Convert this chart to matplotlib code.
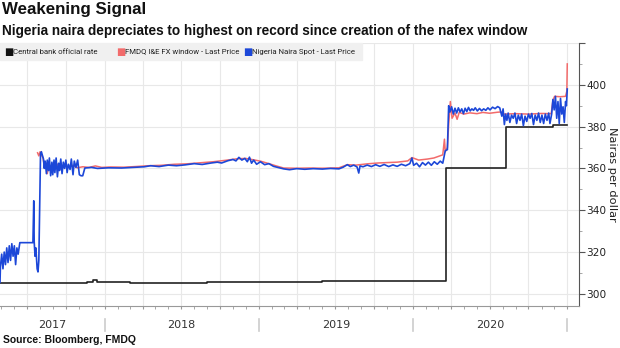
import matplotlib
matplotlib.use("Agg")
import matplotlib.pyplot as plt
import matplotlib.dates as mdates
import matplotlib.transforms as mtrans
from matplotlib import font_manager
from matplotlib.patches import Rectangle
import pandas as pd

# Nigeria naira spot (blue)
spot_dates = [
    "2017-04-28", "2017-04-29", "2017-05-02", "2017-05-05", "2017-05-08", "2017-05-11",
    "2017-05-14", "2017-05-17", "2017-05-20", "2017-05-23", "2017-05-26", "2017-05-29",
    "2017-06-01", "2017-06-04", "2017-06-07", "2017-06-10", "2017-06-14", "2017-07-15",
    "2017-07-17", "2017-07-18", "2017-07-20", "2017-07-22", "2017-07-25", "2017-07-27",
    "2017-07-29", "2017-08-02", "2017-08-04", "2017-08-07", "2017-08-09", "2017-08-11",
    "2017-08-13", "2017-08-16", "2017-08-18", "2017-08-21", "2017-08-23", "2017-08-26",
    "2017-08-29", "2017-08-31", "2017-09-03", "2017-09-05", "2017-09-08", "2017-09-11",
    "2017-09-14", "2017-09-16", "2017-09-19", "2017-09-22", "2017-09-25", "2017-09-28",
    "2017-10-01", "2017-10-04", "2017-10-07", "2017-10-11", "2017-10-14", "2017-10-18",
    "2017-10-21", "2017-10-25", "2017-10-29", "2017-11-02", "2017-11-06", "2017-11-10",
    "2017-11-15", "2017-12-01", "2017-12-15", "2018-01-10", "2018-02-10", "2018-03-10",
    "2018-04-05", "2018-04-20", "2018-05-10", "2018-06-01", "2018-06-20", "2018-07-10",
    "2018-08-01", "2018-08-20", "2018-09-10", "2018-09-25", "2018-10-05", "2018-10-20",
    "2018-11-01", "2018-11-08", "2018-11-15", "2018-11-22", "2018-11-29", "2018-12-05",
    "2018-12-10", "2018-12-15", "2018-12-20", "2018-12-27", "2019-01-05", "2019-01-15",
    "2019-01-25", "2019-02-05", "2019-02-15", "2019-03-01", "2019-03-15", "2019-04-01",
    "2019-04-20", "2019-05-10", "2019-06-01", "2019-06-20", "2019-07-10", "2019-07-20",
    "2019-07-30", "2019-08-06", "2019-08-14", "2019-08-22", "2019-08-26", "2019-08-29",
    "2019-09-05", "2019-09-15", "2019-09-25", "2019-10-05", "2019-10-15", "2019-10-25",
    "2019-11-05", "2019-11-15", "2019-11-25", "2019-12-05", "2019-12-15", "2019-12-25",
    "2019-12-30", "2020-01-03", "2020-01-10", "2020-01-17", "2020-01-24", "2020-01-31",
    "2020-02-07", "2020-02-14", "2020-02-21", "2020-02-28", "2020-03-06", "2020-03-12",
    "2020-03-18", "2020-03-23", "2020-03-26", "2020-03-29", "2020-04-02", "2020-04-06",
    "2020-04-10", "2020-04-14", "2020-04-18", "2020-04-22", "2020-04-26", "2020-04-30",
    "2020-05-04", "2020-05-08", "2020-05-12", "2020-05-16", "2020-05-20", "2020-05-24",
    "2020-05-28", "2020-06-02", "2020-06-07", "2020-06-12", "2020-06-17", "2020-06-22",
    "2020-06-27", "2020-07-02", "2020-07-08", "2020-07-14", "2020-07-20", "2020-07-25",
    "2020-07-30", "2020-08-02", "2020-08-05", "2020-08-08", "2020-08-11", "2020-08-14",
    "2020-08-18", "2020-08-22", "2020-08-26", "2020-08-30", "2020-09-03", "2020-09-07",
    "2020-09-11", "2020-09-15", "2020-09-19", "2020-09-23", "2020-09-27", "2020-10-01",
    "2020-10-05", "2020-10-09", "2020-10-13", "2020-10-17", "2020-10-21", "2020-10-25",
    "2020-10-29", "2020-11-02", "2020-11-06", "2020-11-10", "2020-11-14", "2020-11-18",
    "2020-11-21", "2020-11-25", "2020-11-28", "2020-12-01", "2020-12-04", "2020-12-07",
    "2020-12-10", "2020-12-13", "2020-12-16", "2020-12-19", "2020-12-22", "2020-12-25",
    "2020-12-28", "2020-12-30", "2021-01-01",
]
spot_vals = [
    305.5, 313, 319, 312, 320, 314,
    322, 315, 323, 316, 324, 318,
    323, 314, 322, 319, 324.5, 324.5,
    344.5, 325, 318, 322, 312, 310.5,
    316, 367, 368, 366, 364.5, 360,
    363.5, 357.5, 364, 359, 365, 356.5,
    363, 357, 364, 358, 365, 356,
    362.5, 359, 364.5, 357.5, 363, 360,
    364, 358, 362, 359.5, 364.5, 357,
    363.5, 360.5, 364, 357, 356.5, 356.5,
    360.2, 360.5, 360.0, 360.3, 360.2, 360.5,
    360.8, 361.3, 360.9, 361.6, 361.3, 361.7,
    362.3, 361.9, 362.6, 363.0, 362.6, 363.7,
    364.3, 363.6, 365.3, 364.0, 364.8, 363.2,
    365.4, 362.5, 364.0, 362.0, 363.2, 361.8,
    362.3, 361.0, 360.5, 359.8, 359.4, 359.9,
    359.6, 359.9, 359.7, 360.0, 359.8, 360.6,
    361.8, 360.9, 361.6, 360.7, 357.8, 361.2,
    360.8, 361.6, 360.9, 361.8, 361.0, 361.9,
    360.9, 361.7, 361.0, 362.0, 361.3, 362.3,
    365.0, 361.5, 362.5, 360.8, 362.8, 361.6,
    363.0, 361.5, 363.2, 362.0, 363.5, 362.5,
    368.5, 369, 390, 387, 389.5, 386,
    388.8, 386.5, 389, 387, 388.5, 386.2,
    388.8, 387.2, 389.2, 387.5, 388.5, 387.8,
    389, 387.5, 388.7, 387.6, 388.5, 387.8,
    389, 388, 389.3, 388.6, 389.6, 389,
    385, 388.5, 381, 386, 383, 386.5,
    382, 385.5, 384, 386.5, 381.5, 385.5,
    383, 386, 380.5, 385, 382.5, 386,
    384, 386.3, 381, 385.5, 383, 386.5,
    382, 385.5, 381.5, 386, 383, 386.5,
    381.5, 386, 393, 388, 394.5, 384,
    392, 381.5, 393.5, 386, 389.5, 382,
    392, 390, 398,
]

# FMDQ I&E FX window (red)
fmdq_dates = [
    "2017-07-26", "2017-07-29", "2017-08-01", "2017-08-04", "2017-08-08", "2017-08-11",
    "2017-08-14", "2017-08-18", "2017-08-22", "2017-08-26", "2017-08-31", "2017-09-05",
    "2017-09-12", "2017-09-20", "2017-09-28", "2017-10-08", "2017-10-18", "2017-10-28",
    "2017-11-10", "2017-11-25", "2017-12-10", "2017-12-25", "2018-01-15", "2018-02-15",
    "2018-03-15", "2018-04-15", "2018-05-15", "2018-06-15", "2018-07-15", "2018-08-15",
    "2018-09-15", "2018-10-15", "2018-11-10", "2018-12-01", "2018-12-15", "2019-01-05",
    "2019-01-25", "2019-02-10", "2019-03-01", "2019-04-01", "2019-05-01", "2019-06-01",
    "2019-07-10", "2019-07-30", "2019-08-20", "2019-09-15", "2019-10-10", "2019-11-01",
    "2019-11-25", "2019-12-20", "2019-12-30", "2020-01-15", "2020-02-05", "2020-02-20",
    "2020-03-05", "2020-03-12", "2020-03-16", "2020-03-18", "2020-03-23", "2020-03-26",
    "2020-03-30", "2020-04-03", "2020-04-10", "2020-04-15", "2020-04-20", "2020-05-01",
    "2020-05-15", "2020-06-01", "2020-06-15", "2020-07-01", "2020-07-20", "2020-07-28",
    "2020-08-05", "2020-09-01", "2020-10-01", "2020-11-01", "2020-11-24", "2020-11-28",
    "2020-12-02", "2020-12-15", "2020-12-28", "2020-12-31", "2021-01-01",
]
fmdq_vals = [
    367.5, 366, 368, 366.5, 365, 361,
    363, 357.5, 362, 359, 362, 360,
    362, 359.5, 361.5, 360.5, 361.5, 360.3,
    360.8, 360.5, 361.2, 360.5, 360.7, 360.6,
    360.9, 361.3, 361.5, 362.0, 362.2, 362.7,
    363.2, 363.9, 364.6, 364.8, 364.3, 363.5,
    362.3, 361.3, 360.2, 360.1, 360.2, 360.1,
    360.3, 361.8, 361.6, 362.2, 362.6, 362.8,
    363.0, 363.6, 365.2, 364.0, 364.5, 365.0,
    366.0, 366.5, 374, 368, 370, 381,
    392, 384, 386.5, 383.5, 386.8, 386.0,
    386.6, 386.2, 386.8, 386.4, 386.9, 387.0,
    386.0, 386.2, 386.0, 386.3, 386.2, 392.5,
    394.5, 394.3, 394.5, 397, 410,
]

# Central bank official rate (black)
cbn_dates = [
    "2017-04-28", "2017-07-01", "2017-09-01", "2017-11-20", "2017-12-05", "2017-12-15",
    "2018-03-01", "2018-06-01", "2018-09-01", "2019-01-01", "2019-06-01", "2019-12-01",
    "2020-03-19", "2020-03-20", "2020-08-09", "2020-08-10", "2020-11-25", "2020-11-28",
    "2021-01-01",
]
cbn_vals = [
    305.3, 305.4, 305.2, 305.5, 306.6, 305.7,
    305.3, 305.4, 305.6, 305.7, 306.0, 306.2,
    306.2, 360.3, 360.3, 379.7, 379.8, 380.8,
    380.8,
]

years = [2017, 2018, 2019, 2020]
legend_labels = ["Central bank official rate", "FMDQ I&E FX window - Last Price",
                 "Nigeria Naira Spot - Last Price"]
legend_colors = ["#111111", "#f26b6b", "#1c47d8"]


def has_font(name):
    try:
        font_manager.findfont(name, fallback_to_default=False)
        return True
    except Exception:
        return False


narrow = "Liberation Sans Narrow" if has_font("Liberation Sans Narrow") else "Roboto"
narrow_size = 6.6 if narrow == "Liberation Sans Narrow" else 5.6
head = "Liberation Sans"

fig = plt.figure(figsize=(6.2, 3.48), dpi=100)
ax = fig.add_axes([0.0, 0.1207, 0.934, 0.7557])

ax.plot(pd.to_datetime(cbn_dates), cbn_vals, color="#222222", lw=1.2,
        drawstyle="steps-post", zorder=3)
ax.plot(pd.to_datetime(fmdq_dates), fmdq_vals, color="#f26b6b", lw=1.1, zorder=4)
ax.plot(pd.to_datetime(spot_dates), spot_vals, color="#1c47d8", lw=1.2, zorder=5)

x0 = pd.Timestamp("2017-04-28")
x1 = pd.Timestamp("2021-01-29")
ax.set_xlim(x0, x1)
ax.set_ylim(294.2, 420)

# axes styling
for s in ["left", "top"]:
    ax.spines[s].set_visible(False)
ax.spines["right"].set_color("#555555")
ax.spines["bottom"].set_color("#999999")
ax.yaxis.tick_right()
ax.set_yticks([300, 320, 340, 360, 380, 400, 420])
ax.set_yticklabels(["300", "320", "340", "360", "380", "400", ""])
ax.set_yticks(range(310, 420, 20), minor=True)
ax.tick_params(axis="y", which="major", length=4, color="#555555", labelsize=7.6,
               labelcolor="#222222", pad=1)
ax.tick_params(axis="y", which="minor", length=2, color="#999999")
ax.text(1.056, 0.5, "Nairas per dollar", transform=ax.transAxes, rotation=270,
        ha="center", va="center", fontsize=8.2, color="#222222")

ax.xaxis.set_major_locator(mdates.MonthLocator(bymonth=[1, 4, 7, 10]))
ax.xaxis.set_minor_locator(mdates.MonthLocator())
ax.tick_params(axis="x", which="both", length=2.5, color="#999999", labelbottom=False)
ax.grid(True, which="major", color="#e8e8e8", lw=0.8)
ax.set_axisbelow(True)

# year labels and separators under the axis
tr = mtrans.blended_transform_factory(ax.transData, ax.transAxes)
for y in years:
    start = max(pd.Timestamp(f"{y}-01-01"), x0)
    end = pd.Timestamp(f"{y + 1}-01-01")
    mid = start + (end - start) / 2
    ax.text(mid, -0.072, str(y), transform=tr, ha="center", va="center",
            fontsize=8, color="#333333")
    if y > 2017:
        ax.plot([start, start], [-0.05, -0.095], transform=tr, color="#cccccc",
                lw=1.2, clip_on=False)
ax.plot([end, end], [-0.05, -0.095], transform=tr, color="#cccccc", lw=1.2,
        clip_on=False)

# titles
fig.text(0.003, 0.995, "Weakening Signal", fontsize=12.2, fontweight="bold",
         family=head, va="top", ha="left", color="#111111")
fig.text(0.003, 0.91, "Nigeria naira depreciates to highest on record since creation of the nafex window",
         fontsize=9.8, fontweight="bold", family=head, va="center", ha="left",
         color="#111111")

# legend band
fig.patches.append(Rectangle((0, 1 - 60 / 348), 362 / 620, 17 / 348,
                             transform=fig.transFigure, color="#f0f0f0", zorder=0))
leg_x = [4 / 620, 116 / 620, 243 / 620]
for lx, lab, col in zip(leg_x, legend_labels, legend_colors):
    fig.text(lx, 0.852, "■", color=col, fontsize=7, va="center", ha="left")
    fig.text(lx + 9 / 620, 0.852, lab, color="#222222", fontsize=narrow_size,
             family=narrow, va="center", ha="left")

fig.text(0.005, 0.023, "Source: Bloomberg, FMDQ", fontsize=7.5, fontweight="bold",
         family=head, va="center", ha="left", color="#111111")

fig.savefig("out.png", dpi=100)
